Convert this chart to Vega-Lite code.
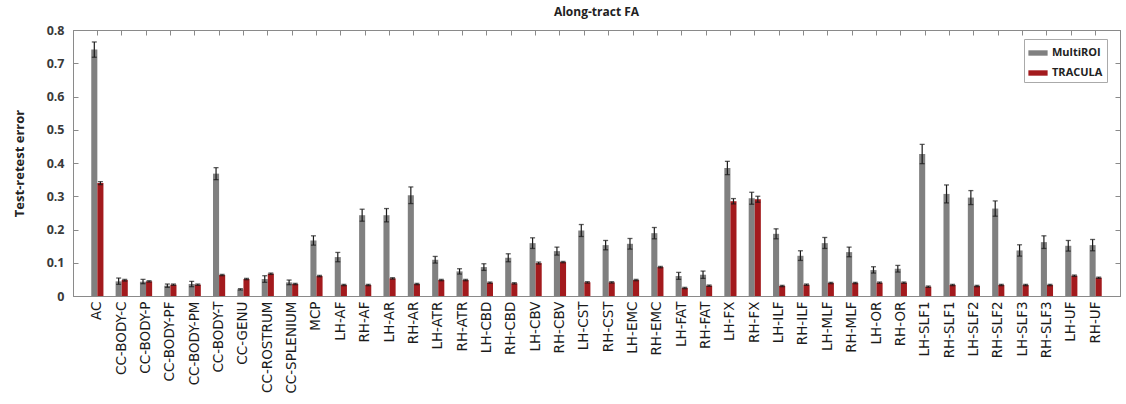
{
  "$schema": "https://vega.github.io/schema/vega-lite/v6.json",
  "width": 1047,
  "height": 266,
  "autosize": "none",
  "padding": {"left": 73, "top": 30, "right": 6, "bottom": 108},
  "background": "white",
  "title": {"text": "Along-tract FA", "font": "Open Sans", "fontSize": 12, "fontWeight": "bold", "color": "#222222", "offset": 5},
  "config": {
    "view": {"stroke": "#8a8a8a", "strokeWidth": 1},
    "axis": {"domainColor": "#8a8a8a", "tickColor": "#8a8a8a", "grid": false}
  },
  "data": {"values": [
    {"tract":"AC","method":"MultiROI","value":0.741,"lo":0.718,"hi":0.764},
    {"tract":"AC","method":"TRACULA","value":0.340,"lo":0.335,"hi":0.344},
    {"tract":"CC-BODY-C","method":"MultiROI","value":0.044,"lo":0.035,"hi":0.054},
    {"tract":"CC-BODY-C","method":"TRACULA","value":0.048,"lo":0.045,"hi":0.050},
    {"tract":"CC-BODY-P","method":"MultiROI","value":0.043,"lo":0.037,"hi":0.050},
    {"tract":"CC-BODY-P","method":"TRACULA","value":0.044,"lo":0.042,"hi":0.046},
    {"tract":"CC-BODY-PF","method":"MultiROI","value":0.031,"lo":0.026,"hi":0.036},
    {"tract":"CC-BODY-PF","method":"TRACULA","value":0.034,"lo":0.032,"hi":0.036},
    {"tract":"CC-BODY-PM","method":"MultiROI","value":0.036,"lo":0.028,"hi":0.044},
    {"tract":"CC-BODY-PM","method":"TRACULA","value":0.034,"lo":0.032,"hi":0.036},
    {"tract":"CC-BODY-T","method":"MultiROI","value":0.368,"lo":0.350,"hi":0.386},
    {"tract":"CC-BODY-T","method":"TRACULA","value":0.063,"lo":0.061,"hi":0.065},
    {"tract":"CC-GENU","method":"MultiROI","value":0.020,"lo":0.018,"hi":0.022},
    {"tract":"CC-GENU","method":"TRACULA","value":0.051,"lo":0.049,"hi":0.053},
    {"tract":"CC-ROSTRUM","method":"MultiROI","value":0.051,"lo":0.041,"hi":0.061},
    {"tract":"CC-ROSTRUM","method":"TRACULA","value":0.067,"lo":0.065,"hi":0.069},
    {"tract":"CC-SPLENIUM","method":"MultiROI","value":0.041,"lo":0.034,"hi":0.048},
    {"tract":"CC-SPLENIUM","method":"TRACULA","value":0.036,"lo":0.034,"hi":0.038},
    {"tract":"MCP","method":"MultiROI","value":0.167,"lo":0.153,"hi":0.181},
    {"tract":"MCP","method":"TRACULA","value":0.060,"lo":0.058,"hi":0.062},
    {"tract":"LH-AF","method":"MultiROI","value":0.117,"lo":0.103,"hi":0.131},
    {"tract":"LH-AF","method":"TRACULA","value":0.033,"lo":0.031,"hi":0.035},
    {"tract":"RH-AF","method":"MultiROI","value":0.243,"lo":0.225,"hi":0.261},
    {"tract":"RH-AF","method":"TRACULA","value":0.033,"lo":0.031,"hi":0.035},
    {"tract":"LH-AR","method":"MultiROI","value":0.243,"lo":0.223,"hi":0.263},
    {"tract":"LH-AR","method":"TRACULA","value":0.053,"lo":0.051,"hi":0.055},
    {"tract":"RH-AR","method":"MultiROI","value":0.303,"lo":0.278,"hi":0.328},
    {"tract":"RH-AR","method":"TRACULA","value":0.036,"lo":0.034,"hi":0.038},
    {"tract":"LH-ATR","method":"MultiROI","value":0.109,"lo":0.099,"hi":0.119},
    {"tract":"LH-ATR","method":"TRACULA","value":0.048,"lo":0.046,"hi":0.050},
    {"tract":"RH-ATR","method":"MultiROI","value":0.074,"lo":0.066,"hi":0.082},
    {"tract":"RH-ATR","method":"TRACULA","value":0.048,"lo":0.046,"hi":0.050},
    {"tract":"LH-CBD","method":"MultiROI","value":0.087,"lo":0.077,"hi":0.097},
    {"tract":"LH-CBD","method":"TRACULA","value":0.040,"lo":0.038,"hi":0.042},
    {"tract":"RH-CBD","method":"MultiROI","value":0.115,"lo":0.103,"hi":0.127},
    {"tract":"RH-CBD","method":"TRACULA","value":0.038,"lo":0.036,"hi":0.040},
    {"tract":"LH-CBV","method":"MultiROI","value":0.159,"lo":0.143,"hi":0.175},
    {"tract":"LH-CBV","method":"TRACULA","value":0.099,"lo":0.096,"hi":0.102},
    {"tract":"RH-CBV","method":"MultiROI","value":0.135,"lo":0.123,"hi":0.147},
    {"tract":"RH-CBV","method":"TRACULA","value":0.102,"lo":0.100,"hi":0.104},
    {"tract":"LH-CST","method":"MultiROI","value":0.197,"lo":0.179,"hi":0.215},
    {"tract":"LH-CST","method":"TRACULA","value":0.041,"lo":0.039,"hi":0.043},
    {"tract":"RH-CST","method":"MultiROI","value":0.153,"lo":0.139,"hi":0.167},
    {"tract":"RH-CST","method":"TRACULA","value":0.041,"lo":0.039,"hi":0.043},
    {"tract":"LH-EMC","method":"MultiROI","value":0.157,"lo":0.141,"hi":0.173},
    {"tract":"LH-EMC","method":"TRACULA","value":0.048,"lo":0.046,"hi":0.050},
    {"tract":"RH-EMC","method":"MultiROI","value":0.189,"lo":0.172,"hi":0.206},
    {"tract":"RH-EMC","method":"TRACULA","value":0.087,"lo":0.085,"hi":0.089},
    {"tract":"LH-FAT","method":"MultiROI","value":0.060,"lo":0.050,"hi":0.071},
    {"tract":"LH-FAT","method":"TRACULA","value":0.024,"lo":0.022,"hi":0.026},
    {"tract":"RH-FAT","method":"MultiROI","value":0.064,"lo":0.053,"hi":0.075},
    {"tract":"RH-FAT","method":"TRACULA","value":0.031,"lo":0.029,"hi":0.033},
    {"tract":"LH-FX","method":"MultiROI","value":0.385,"lo":0.365,"hi":0.405},
    {"tract":"LH-FX","method":"TRACULA","value":0.285,"lo":0.277,"hi":0.293},
    {"tract":"RH-FX","method":"MultiROI","value":0.294,"lo":0.276,"hi":0.312},
    {"tract":"RH-FX","method":"TRACULA","value":0.291,"lo":0.282,"hi":0.300},
    {"tract":"LH-ILF","method":"MultiROI","value":0.187,"lo":0.172,"hi":0.202},
    {"tract":"LH-ILF","method":"TRACULA","value":0.030,"lo":0.028,"hi":0.032},
    {"tract":"RH-ILF","method":"MultiROI","value":0.121,"lo":0.107,"hi":0.136},
    {"tract":"RH-ILF","method":"TRACULA","value":0.034,"lo":0.032,"hi":0.036},
    {"tract":"LH-MLF","method":"MultiROI","value":0.159,"lo":0.143,"hi":0.176},
    {"tract":"LH-MLF","method":"TRACULA","value":0.039,"lo":0.037,"hi":0.041},
    {"tract":"RH-MLF","method":"MultiROI","value":0.132,"lo":0.118,"hi":0.147},
    {"tract":"RH-MLF","method":"TRACULA","value":0.039,"lo":0.037,"hi":0.041},
    {"tract":"LH-OR","method":"MultiROI","value":0.078,"lo":0.069,"hi":0.088},
    {"tract":"LH-OR","method":"TRACULA","value":0.040,"lo":0.038,"hi":0.042},
    {"tract":"RH-OR","method":"MultiROI","value":0.082,"lo":0.072,"hi":0.092},
    {"tract":"RH-OR","method":"TRACULA","value":0.040,"lo":0.038,"hi":0.042},
    {"tract":"LH-SLF1","method":"MultiROI","value":0.427,"lo":0.398,"hi":0.456},
    {"tract":"LH-SLF1","method":"TRACULA","value":0.028,"lo":0.026,"hi":0.030},
    {"tract":"RH-SLF1","method":"MultiROI","value":0.307,"lo":0.280,"hi":0.334},
    {"tract":"RH-SLF1","method":"TRACULA","value":0.033,"lo":0.031,"hi":0.035},
    {"tract":"LH-SLF2","method":"MultiROI","value":0.296,"lo":0.275,"hi":0.317},
    {"tract":"LH-SLF2","method":"TRACULA","value":0.030,"lo":0.028,"hi":0.032},
    {"tract":"RH-SLF2","method":"MultiROI","value":0.263,"lo":0.240,"hi":0.286},
    {"tract":"RH-SLF2","method":"TRACULA","value":0.033,"lo":0.031,"hi":0.035},
    {"tract":"LH-SLF3","method":"MultiROI","value":0.137,"lo":0.120,"hi":0.154},
    {"tract":"LH-SLF3","method":"TRACULA","value":0.033,"lo":0.031,"hi":0.035},
    {"tract":"RH-SLF3","method":"MultiROI","value":0.162,"lo":0.143,"hi":0.181},
    {"tract":"RH-SLF3","method":"TRACULA","value":0.033,"lo":0.031,"hi":0.035},
    {"tract":"LH-UF","method":"MultiROI","value":0.151,"lo":0.135,"hi":0.167},
    {"tract":"LH-UF","method":"TRACULA","value":0.061,"lo":0.059,"hi":0.063},
    {"tract":"RH-UF","method":"MultiROI","value":0.153,"lo":0.136,"hi":0.170},
    {"tract":"RH-UF","method":"TRACULA","value":0.055,"lo":0.053,"hi":0.057}
  ]},
  "encoding": {
    "x": {"field": "tract", "type": "nominal", "sort": null,
      "scale": {"paddingInner": 0.5, "paddingOuter": 0.75}},
    "xOffset": {"field": "method", "type": "nominal", "scale": {"padding": 0}}
  },
  "resolve": {"axis": {"x": "independent", "y": "independent"}},
  "layer": [
    {
      "mark": {"type": "bar"},
      "encoding": {
        "x": {"field": "tract", "type": "nominal", "sort": null,
          "scale": {"paddingInner": 0.5, "paddingOuter": 0.75},
          "axis": {"title": null, "labelAngle": -90, "labelFont": "DejaVu Sans", "labelFontSize": 13.5, "labelColor": "#1a1a1a", "ticks": false, "labelPadding": 5, "domain": true}},
        "y": {"field": "value", "type": "quantitative",
          "scale": {"domain": [0, 0.8], "nice": false},
          "axis": {"title": "Test-retest error", "titleFont": "Open Sans", "titleFontSize": 13, "titleFontWeight": "bold", "titleColor": "#222222", "titlePadding": 20,
            "values": [0, 0.1, 0.2, 0.3, 0.4, 0.5, 0.6, 0.7, 0.8], "format": ".1~f",
            "labelFont": "Open Sans", "labelFontSize": 12.5, "labelFontWeight": "bold", "labelColor": "#3a3a3a", "tickSize": -5, "labelPadding": 14}},
        "color": {"field": "method", "type": "nominal",
          "scale": {"domain": ["MultiROI", "TRACULA"], "range": ["#808080", "#a31a1d"]},
          "legend": {"title": null, "orient": "none", "legendX": 951, "legendY": 9,
            "symbolType": "M-1,-0.28H1V0.28H-1Z", "symbolSize": 370, "symbolStrokeWidth": 0,
            "labelFont": "Open Sans", "labelFontSize": 11, "labelFontWeight": "bold", "labelColor": "#222222",
            "strokeColor": "#aaaaaa", "fillColor": "white", "padding": 4, "rowPadding": 5, "labelOffset": 4}}
      }
    },
    {
      "mark": {"type": "rule", "color": "#1a1a1a", "strokeWidth": 1.2},
      "encoding": {
        "x": {"field": "tract", "type": "nominal", "sort": null,
          "axis": {"orient": "top", "labels": false, "title": null, "tickSize": -5, "domain": true}},
        "y": {"field": "lo", "type": "quantitative",
          "axis": {"orient": "right", "labels": false, "title": null, "values": [0, 0.1, 0.2, 0.3, 0.4, 0.5, 0.6, 0.7, 0.8], "tickSize": -5}},
        "y2": {"field": "hi"}
      }
    },
    {
      "mark": {"type": "tick", "color": "#1a1a1a", "thickness": 1.3, "size": 5, "orient": "horizontal"},
      "encoding": {
        "x": {"field": "tract", "type": "nominal", "sort": null, "axis": null},
        "y": {"field": "hi", "type": "quantitative", "axis": null}
      }
    },
    {
      "mark": {"type": "tick", "color": "#1a1a1a", "thickness": 1.3, "size": 5, "orient": "horizontal"},
      "encoding": {
        "x": {"field": "tract", "type": "nominal", "sort": null, "axis": null},
        "y": {"field": "lo", "type": "quantitative", "axis": null}
      }
    }
  ]
}
